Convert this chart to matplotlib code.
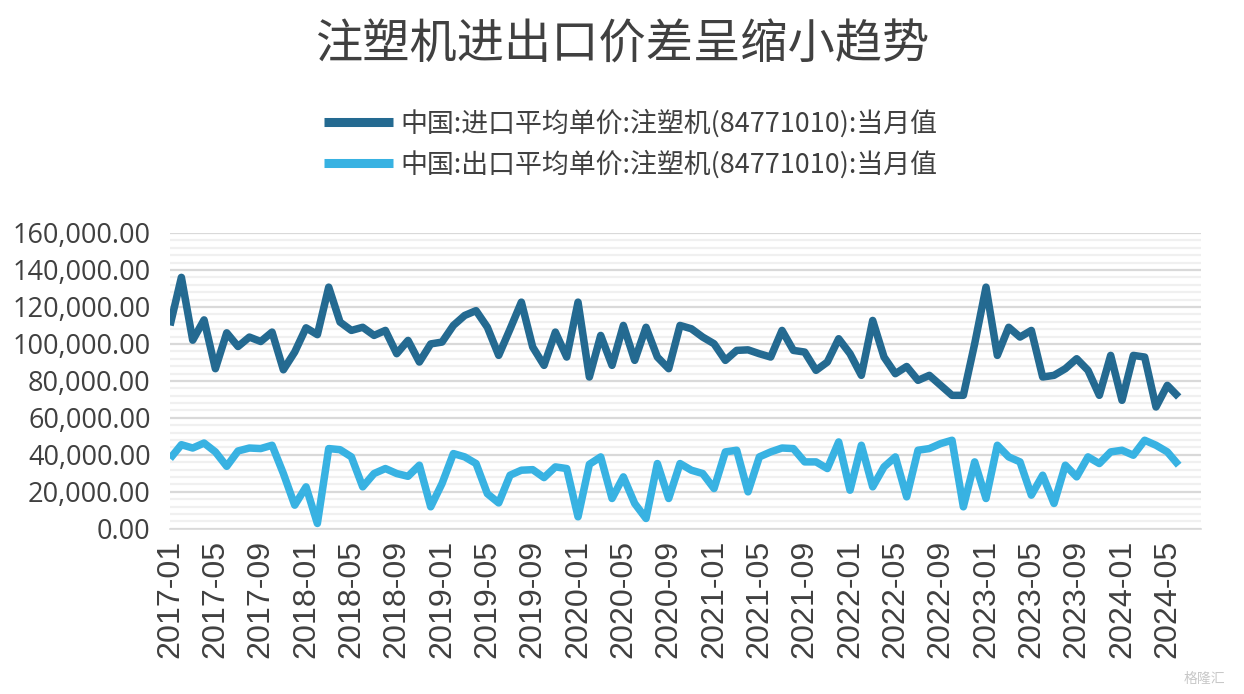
import matplotlib
matplotlib.use("Agg")
import matplotlib.pyplot as plt
from matplotlib.ticker import MultipleLocator, FuncFormatter
import pandas as pd

months = [p.strftime("%Y-%m") for p in pd.period_range("2017-01", "2024-06", freq="M")]

import_price = [
    110000, 136000, 102000, 113000, 86600, 106000, 98600, 103700, 101300, 106400,
    86000, 95600, 108700, 105000, 130700, 111800, 107300, 109000, 104600, 107300,
    94700, 101900, 90200, 100000, 101000, 110000, 115400, 118000, 109000, 93800,
    108000, 122600, 98300, 88400, 106400, 92900, 122600, 82100, 104600, 88400,
    110000, 91100, 109000, 92900, 86600, 110000, 108200, 103700, 100100, 91100,
    96500, 96800, 94700, 92900, 107300, 96500, 95600, 85700, 90200, 102800,
    94700, 83000, 112700, 92900, 83900, 87800, 80300, 83000, 77600, 72200,
    72200, 100100, 130700, 93800, 109000, 103700, 107300, 82100, 83000, 86600,
    92000, 85700, 72200, 93800, 69500, 93800, 92900, 65900, 77600, 71300,
]

export_price = [
    38000, 45500, 43700, 46400, 41600, 33800, 42100, 43700, 43400, 45200,
    29900, 12800, 22700, 2900, 43400, 42800, 38900, 22700, 29900, 32600,
    29900, 28400, 34400, 11900, 24500, 40700, 38900, 35300, 19000, 14000,
    29000, 31700, 32000, 27700, 33500, 32600, 6500, 34900, 38900, 16400,
    28100, 13700, 5600, 35300, 16400, 35300, 31700, 29900, 21800, 41600,
    42500, 20000, 38900, 41600, 43700, 43400, 36200, 36200, 32600, 47000,
    20900, 45200, 22700, 33500, 38900, 17300, 42500, 43400, 46100, 47900,
    11900, 36200, 16400, 45200, 38900, 36200, 18200, 29000, 13700, 34400,
    28100, 38900, 35300, 41600, 42500, 39800, 47900, 45200, 41600, 34400,
]

title = "注塑机进出口价差呈缩小趋势"
label_import = "中国:进口平均单价:注塑机(84771010):当月值"
label_export = "中国:出口平均单价:注塑机(84771010):当月值"

dark = "#246a91"
light = "#38b2e2"
txt = "#404040"

fig = plt.figure(figsize=(12.44, 6.94), dpi=100)
ax = fig.add_axes([0.1367, 0.238, 0.829, 0.4263])

x = list(range(len(months)))
l1, = ax.plot(x, import_price, color=dark, lw=5.4, solid_joinstyle="round",
              solid_capstyle="butt", zorder=3)
l2, = ax.plot(x, export_price, color=light, lw=5.4, solid_joinstyle="round",
              solid_capstyle="butt", zorder=3)

ax.set_xlim(0, 91)
ax.set_ylim(0, 160000)
ax.yaxis.set_major_locator(MultipleLocator(20000))
ax.yaxis.set_minor_locator(MultipleLocator(4000))
ax.yaxis.set_major_formatter(FuncFormatter(lambda v, p: f"{v:,.2f}"))
ax.grid(axis="y", which="major", color="#d9d9d9", lw=1.6, zorder=1)
ax.grid(axis="y", which="minor", color="#f0f0f0", lw=1.6, zorder=0)
ax.set_axisbelow(True)

ax.set_xticks(x[::4])
ax.set_xticklabels(months[::4], rotation=90, fontsize=23.2, color=txt,
                   family="Liberation Sans")
ax.tick_params(axis="x", length=0, pad=8)
ax.tick_params(axis="y", which="both", length=0, pad=14)
for lab in ax.get_yticklabels():
    lab.set_family("Open Sans")
    lab.set_fontsize(19.5)
    lab.set_color(txt)

for s in ["top", "right", "left"]:
    ax.spines[s].set_visible(False)
ax.spines["bottom"].set_color("#d9d9d9")
ax.spines["bottom"].set_linewidth(1.2)

fig.text(0.5, 0.935, title, ha="center", va="center", fontsize=34,
         color=txt, family=["Noto Sans CJK SC", "DejaVu Sans"])

leg = fig.legend([l1, l2], [label_import, label_export], loc="center",
                 bbox_to_anchor=(0.507, 0.793), frameon=False, ncol=1,
                 prop={"family": ["Noto Sans CJK SC", "DejaVu Sans"], "size": 19.4},
                 handlelength=2.55, handletextpad=0.3, labelspacing=0.46)
for h in leg.get_lines():
    h.set_linewidth(6.5)
for t in leg.get_texts():
    t.set_color(txt)

fig.text(0.985, 0.012, "格隆汇", ha="right", va="bottom", fontsize=10,
         color="#c8c8c8", family=["Noto Sans CJK SC", "DejaVu Sans"])

fig.savefig("out.png", dpi=100)
